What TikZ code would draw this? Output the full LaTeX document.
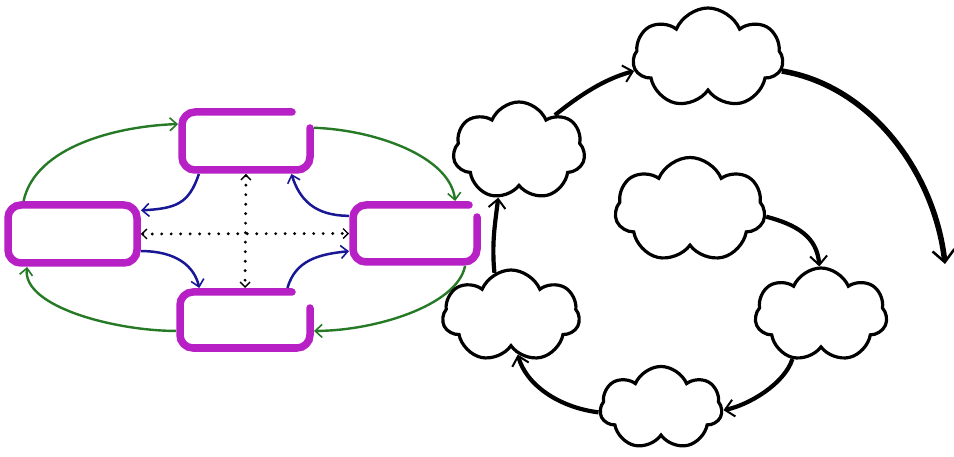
\documentclass[tikz,border=0pt]{standalone}
\usetikzlibrary{arrows.meta,shapes.symbols}
\definecolor{boxmag}{RGB}{182,32,196}
\definecolor{arcgreen}{RGB}{38,122,38}
\definecolor{arcblue}{RGB}{24,24,150}
\begin{document}
\begin{tikzpicture}[x=1pt,y=-1pt,
  boxnode/.style={draw=none,inner sep=0pt,outer sep=4pt},
  magline/.style={draw=boxmag,line width=7.5pt,rounded corners=13pt,line cap=round},
  greenarc/.style={draw=arcgreen,line width=2.4pt,-{Straight Barb[length=7pt,width=13pt,line width=1.6pt]}},
  bluearc/.style={draw=arcblue,line width=2.5pt,-{Straight Barb[length=7pt,width=13pt,line width=1.6pt]}},
  dotline/.style={draw=black,line width=3.2pt,line cap=round,dash pattern=on 0pt off 9.5pt,
     {Straight Barb[length=5pt,width=10pt,line width=1.4pt]}-{Straight Barb[length=5pt,width=10pt,line width=1.4pt]}},
  cloudn/.style={cloud,cloud puffs=7,cloud puff arc=135,cloud ignores aspect,draw=black,line width=3.2pt,inner sep=0pt,fill=white},
  cloudarrow/.style={draw=black,line width=4.2pt,-{Straight Barb[length=9pt,width=17pt,line width=2pt]}},
  bigarrow/.style={draw=black,line width=5.5pt,-{Straight Barb[length=12pt,width=22pt,line width=2.5pt]}}
]
\useasboundingbox (0,0) rectangle (954,457);

% magenta boxes
\node[boxnode,minimum width=128pt,minimum height=58pt] (T) at (246,141) {};
\node[boxnode,minimum width=129pt,minimum height=58pt] (L) at (72.5,234) {};
\node[boxnode,minimum width=124pt,minimum height=57pt] (R) at (415,233.5) {};
\node[boxnode,minimum width=130pt,minimum height=56pt] (B) at (245,320) {};

\draw[magline] ([xshift=-22pt,yshift=-4pt]T.north east) -- ([xshift=4pt,yshift=-4pt]T.north west)
  -- ([xshift=4pt,yshift=4pt]T.south west) -- ([xshift=-4pt,yshift=4pt]T.south east) -- ([xshift=-4pt,yshift=-20pt]T.north east);
\draw[magline] ([xshift=4pt,yshift=-4pt]L.north west) rectangle ([xshift=-4pt,yshift=4pt]L.south east);
\draw[magline] ([xshift=-12pt,yshift=-4pt]R.north east) -- ([xshift=4pt,yshift=-4pt]R.north west)
  -- ([xshift=4pt,yshift=4pt]R.south west) -- ([xshift=-4pt,yshift=4pt]R.south east) -- ([xshift=-4pt,yshift=-16pt]R.north east);
\draw[magline] ([xshift=-22pt,yshift=-4pt]B.north east) -- ([xshift=4pt,yshift=-4pt]B.north west)
  -- ([xshift=4pt,yshift=4pt]B.south west) -- ([xshift=-4pt,yshift=4pt]B.south east) -- ([xshift=-4pt,yshift=-20pt]B.north east);

% green outer arcs
\draw[greenarc] (L.146) .. controls +(12,-55) and +(-60,2) .. (T.166);
\draw[greenarc] (T.11) .. controls +(60,2) and +(-5,-45) .. (R.39);
\draw[greenarc] (R.-33) .. controls +(-8,40) and +(60,0) .. (B.-9);
\draw[greenarc] (B.189) .. controls +(-60,0) and +(-5,40) .. (L.216);

% blue inner arcs
\draw[bluearc] (T.215) .. controls +(-10,30) and +(35,-2) .. (L.19);
\draw[bluearc] (L.-14) .. controls +(35,0) and +(-5,-22) .. (B.145);
\draw[bluearc] (B.37) .. controls +(8,-28) and +(-30,3) .. (R.195);
\draw[bluearc] (R.165) .. controls +(-35,0) and +(8,25) .. (T.-36);

% dotted cross
\draw[dotline] (T.south) -- (B.north);
\draw[dotline] (L.east) -- (R.west);

% clouds
\node[cloudn,minimum width=150pt,minimum height=100pt] (CT) at (708,58) {};
\node[cloudn,minimum width=132pt,minimum height=98pt] (CU) at (519,151) {};
\node[cloudn,minimum width=150pt,minimum height=105pt] (CC) at (690,210) {};
\node[cloudn,minimum width=132pt,minimum height=94pt] (CR) at (821,315) {};
\node[cloudn,minimum width=122pt,minimum height=83pt] (CB) at (661,408) {};
\node[cloudn,minimum width=137pt,minimum height=92pt] (CL) at (511,316) {};
\coordinate (E) at (945,264);

% cloud arrows
\draw[cloudarrow] (CU.45) .. controls +(25,-20) and +(-30,8) .. (CT.190);
\draw[bigarrow] (CT.-10) .. controls +(90,15) and +(-10,-90) .. (E);
\draw[cloudarrow] (CC.-5) .. controls +(30,8) and +(-2,-30) .. (CR.92);
\draw[cloudarrow] (CR.237) .. controls +(-8,25) and +(25,-5) .. (CB.-2);
\draw[cloudarrow] (CB.184) .. controls +(-40,-5) and +(8,30) .. (CL.-80);
\draw[cloudarrow] (CL.111) .. controls +(-3,-30) and +(-3,25) .. (CU.246);
\end{tikzpicture}
\end{document}
